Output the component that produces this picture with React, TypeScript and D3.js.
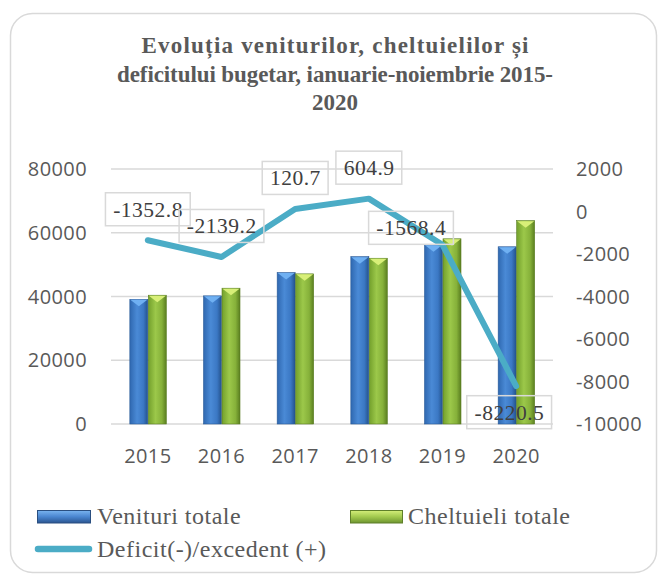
import React from "react";
import * as d3 from "d3";

const years = ["2015", "2016", "2017", "2018", "2019", "2020"];
const venituri = [39100, 40200, 47500, 52500, 56200, 55600];
const cheltuieli = [40400, 42600, 47100, 52000, 58100, 63800];
const deficit = [-1352.8, -2139.2, 120.7, 604.9, -1568.4, -8220.5];
const leftTicks = [0, 20000, 40000, 60000, 80000];
const rightTicks = [-10000, -8000, -6000, -4000, -2000, 0, 2000];
const titleLines = [
  "Evoluția veniturilor, cheltuielilor și",
  "deficitului bugetar, ianuarie-noiembrie 2015-",
  "2020",
];
// title line widths (styling)
const titleWidths: (number | undefined)[] = [387, 436, undefined];
// label placement offsets (styling) relative to each point
const labelOffsets: [number, number][] = [
  [0, -31], [0, -31], [0, -31], [0, -31], [-31.5, -17], [-7, 26],
];

const W = 659, H = 575;
const SANS = "'Open Sans', sans-serif";
const SERIF = "'Liberation Serif', serif";
const LABEL_FONT_SIZE = 21.5;
const LABEL_LS = 0.5;

function measure(text: string, font: string): number {
  try {
    const c = document.createElement("canvas");
    const ctx = c.getContext("2d")!;
    ctx.font = font;
    return ctx.measureText(text).width;
  } catch {
    return text.length * 10;
  }
}

export default function App() {
  const x = d3.scaleBand<string>().domain(years).range([111, 553]);
  const yL = d3.scaleLinear().domain([0, 80000]).range([424, 169]);
  const yR = d3.scaleLinear().domain([-10000, 2000]).range([424, 169]);
  const barW = 18;
  const cx = (y: string) => (x(y) as number) + x.bandwidth() / 2;

  const line = d3
    .line<number>()
    .x((_, i) => cx(years[i]))
    .y((d) => yR(d));

  const bar = (key: string, xs: number, top: number, grad: string, bevel: string, edge: string) => {
    const bottom = yL(0);
    return (
      <g key={key}>
        <rect x={xs} y={top} width={barW} height={bottom - top} fill={`url(#${grad})`} stroke={edge} strokeWidth={0.6} />
        <polygon
          points={`${xs + 0.5},${top + 0.5} ${xs + barW - 0.5},${top + 0.5} ${xs + barW / 2},${top + 7}`}
          fill={bevel}
        />
      </g>
    );
  };

  return (
    <svg width={W} height={H} style={{ position: "absolute", left: 0, top: 0 }}>
      <defs>
        <linearGradient id="gBlue" x1="0" x2="1" y1="0" y2="0">
          <stop offset="0" stopColor="#2f68b0" />
          <stop offset="0.4" stopColor="#4a8ad6" />
          <stop offset="0.75" stopColor="#3b78c4" />
          <stop offset="1" stopColor="#24528c" />
        </linearGradient>
        <linearGradient id="gGreen" x1="0" x2="1" y1="0" y2="0">
          <stop offset="0" stopColor="#73a02c" />
          <stop offset="0.4" stopColor="#9cc84a" />
          <stop offset="0.75" stopColor="#86b13a" />
          <stop offset="1" stopColor="#5a7e20" />
        </linearGradient>
        <linearGradient id="lBlue" x1="0" x2="0" y1="0" y2="1">
          <stop offset="0" stopColor="#7ab4f0" />
          <stop offset="0.5" stopColor="#4a86d0" />
          <stop offset="1" stopColor="#2a5590" />
        </linearGradient>
        <linearGradient id="lGreen" x1="0" x2="0" y1="0" y2="1">
          <stop offset="0" stopColor="#d4ee7a" />
          <stop offset="0.5" stopColor="#a2c94e" />
          <stop offset="1" stopColor="#6e9530" />
        </linearGradient>
      </defs>
      <rect x={0} y={0} width={W} height={H} fill="#ffffff" />
      <rect x={10.5} y={13.5} width={646} height={559} rx={22} fill="#ffffff" stroke="#d9d9d9" strokeWidth={1.5} />

      {titleLines.map((t, i) => (
        <text
          key={t}
          x={335}
          y={53 + i * 28.5}
          textAnchor="middle"
          fontFamily={SERIF}
          fontWeight="bold"
          fontSize={23}
          textLength={titleWidths[i]}
          lengthAdjust={titleWidths[i] ? "spacing" : undefined}
          fill="#595959"
        >
          {t}
        </text>
      ))}

      {leftTicks.map((t) => (
        <line key={t} x1={111} x2={553} y1={yL(t)} y2={yL(t)} stroke="#d9d9d9" strokeWidth={1.5} />
      ))}

      {leftTicks.map((t) => (
        <text key={t} x={87} y={yL(t)} dy="0.35em" textAnchor="end" fontFamily={SANS} fontSize={20} letterSpacing={0.4} fill="#595959">
          {t}
        </text>
      ))}
      {rightTicks.map((t) => (
        <text key={t} x={576} y={yR(t)} dy="0.35em" textAnchor="start" fontFamily={SANS} fontSize={20} letterSpacing={0.4} fill="#595959">
          {t}
        </text>
      ))}
      {years.map((y) => (
        <text key={y} x={cx(y)} y={463} textAnchor="middle" fontFamily={SANS} fontSize={20} letterSpacing={0.4} fill="#595959">
          {y}
        </text>
      ))}

      {years.map((y, i) =>
        bar("v" + y, cx(y) - barW, yL(venituri[i]), "gBlue", "#6fb0f2", "#2a5a98")
      )}
      {years.map((y, i) =>
        bar("c" + y, cx(y) + 0.5, yL(cheltuieli[i]), "gGreen", "#d8ef78", "#5a7e22")
      )}

      <path d={line(deficit) || ""} fill="none" stroke="#4bacc6" strokeWidth={6} strokeLinejoin="round" strokeLinecap="round" />

      {deficit.map((d, i) => {
        const label = d.toFixed(1);
        const tw = measure(label, `${LABEL_FONT_SIZE}px 'Liberation Serif'`) + LABEL_LS * label.length;
        const bw = tw + 15;
        const bh = 33;
        const lx = cx(years[i]) + labelOffsets[i][0];
        const ly = yR(d) + labelOffsets[i][1];
        return (
          <g key={"l" + i}>
            <rect x={lx - bw / 2} y={ly - bh / 2} width={bw} height={bh} fill="none" stroke="#d9d9d9" strokeWidth={1.5} />
            <text x={lx + LABEL_LS / 2} y={ly} dy="0.35em" textAnchor="middle" fontFamily={SERIF} fontSize={LABEL_FONT_SIZE} letterSpacing={LABEL_LS} fill="#404040">
              {label}
            </text>
          </g>
        );
      })}

      {/* legend */}
      <rect x={37.5} y={510.5} width={53} height={12.5} fill="url(#lBlue)" stroke="#2a4f80" strokeWidth={1} />
      <text x={97} y={524} fontFamily={SERIF} fontSize={24} letterSpacing={0.5} fill="#595959">Venituri totale</text>
      <rect x={350.5} y={510.5} width={52} height={12.5} fill="url(#lGreen)" stroke="#5f7f2a" strokeWidth={1} />
      <text x={408} y={524} fontFamily={SERIF} fontSize={24} letterSpacing={0.5} fill="#595959">Cheltuieli totale</text>
      <line x1={38} x2={89} y1={549} y2={549} stroke="#4bacc6" strokeWidth={6.5} strokeLinecap="round" />
      <text x={97} y={557} fontFamily={SERIF} fontSize={24} letterSpacing={0.5} fill="#595959">Deficit(-)/excedent (+)</text>
    </svg>
  );
}
